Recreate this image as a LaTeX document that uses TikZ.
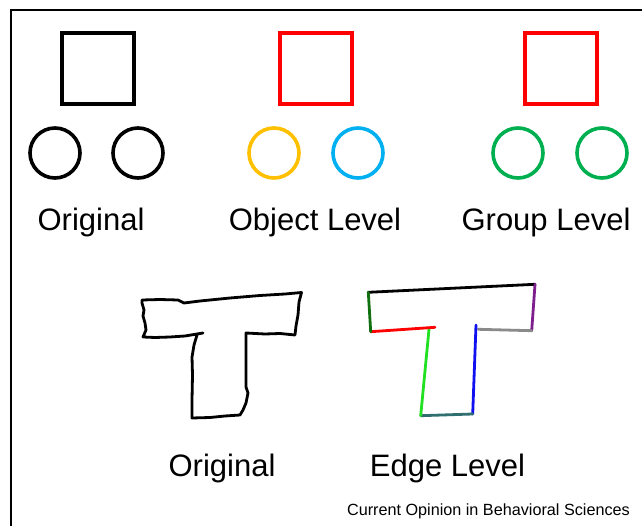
\documentclass[tikz,border=0pt]{standalone}
\usepackage{fontspec}
\setmainfont{Liberation Sans}
\definecolor{cred}{HTML}{FF0000}
\definecolor{cyellow}{HTML}{FFC000}
\definecolor{cblue}{HTML}{00B0F0}
\definecolor{cgreen}{HTML}{00B050}
\definecolor{epurple}{HTML}{7F1F8F}
\definecolor{egray}{HTML}{8A8A8A}
\definecolor{eblue}{HTML}{1010F0}
\definecolor{eteal}{HTML}{2F6F6F}
\definecolor{elime}{HTML}{22E022}
\definecolor{edkgreen}{HTML}{107010}
\tikzset{
  sqbox/.style={draw, line width=4pt, minimum width=72pt, minimum height=71pt, inner sep=0pt},
  circ/.style={draw, circle, line width=3.6pt, minimum size=50pt, inner sep=0pt},
  lbl/.style={font=\fontsize{31}{37}\selectfont, anchor=base, inner sep=0pt},
  credit/.style={font=\fontsize{16.2}{19}\selectfont, anchor=base east, inner sep=0pt},
  edgeline/.style={line width=2.8pt, line cap=round},
  sketch/.style={line width=2.8pt, line join=round, line cap=round}
}
\begin{document}
\begin{tikzpicture}[x=1pt,y=-1pt]
\useasboundingbox (0,0) rectangle (642,526);
\fill[white] (0,0) rectangle (642,526);
% frame
\draw[line width=1.2pt] (11,526) -- (11,10) -- (642,10);

% Original (top)
\node[sqbox] (sqA) at (97.5,69) {};
\node[circ] (cA1) at (55,153) {};
\node[circ] (cA2) at (138,153) {};
\node[lbl] (lA) at (91,231) {Original};

% Object level
\node[sqbox, draw=cred] (sqB) at (316,69) {};
\node[circ, draw=cyellow] (cB1) at (274,153) {};
\node[circ, draw=cblue] (cB2) at (358,153) {};
\node[lbl] (lB) at (315,231) {Object Level};

% Group level
\node[sqbox, draw=cred] (sqC) at (561,69) {};
\node[circ, draw=cgreen] (cC1) at (518,153) {};
\node[circ, draw=cgreen] (cC2) at (602,153) {};
\node[lbl] (lC) at (546,231) {Group Level};

% Hand-drawn T
\draw[sketch] (203,333) -- (197,334) -- (185,336) -- (170,337) -- (155,337.5) -- (143,337)
  -- (146,330) -- (145,323) -- (143,316) -- (144,310) -- (142,303) -- (142,300)
  -- (160,299.5) -- (178,300) -- (184,303) -- (200,301) -- (230,298) -- (260,295.5) -- (285,294) -- (301.5,292.5)
  -- (299,302) -- (298,315) -- (296,326) -- (295,335)
  -- (280,333.5) -- (265,334) -- (246,333)
  -- (246,345) -- (246,365) -- (246,387) -- (248,393) -- (246,403) -- (243,410) -- (240,415)
  -- (225,416) -- (210,417.5) -- (192,418)
  -- (192,400) -- (192.5,375) -- (192,357) -- (194,345) -- (197,335);
\node[lbl] (lD) at (222,476) {Original};

% Edge-level T
\coordinate (e1) at (368.3,292.3);
\coordinate (e2) at (535,284.3);
\coordinate (e3) at (531.7,330.7);
\coordinate (e4) at (478.3,329.3);
\coordinate (e5) at (476,325);
\coordinate (e6) at (472.7,414);
\coordinate (e7) at (420.7,415.7);
\coordinate (e8) at (429,329.3);
\coordinate (e9) at (435,327.3);
\coordinate (e10) at (370.7,331.7);
\draw[edgeline, black] (e1) -- (e2);
\draw[edgeline, epurple] (e2) -- (e3);
\draw[edgeline, egray] (e3) -- (e4);
\draw[edgeline, eblue] (e5) -- (e6);
\draw[edgeline, eteal] (e6) -- (e7);
\draw[edgeline, elime] (e7) -- (e8);
\draw[edgeline, cred] (e9) -- (e10);
\draw[edgeline, edkgreen] (e10) -- (e1);
\node[lbl] (lE) at (447.5,476) {Edge Level};

\node[credit] (cr) at (630,515) {Current Opinion in Behavioral Sciences};
\end{tikzpicture}
\end{document}
